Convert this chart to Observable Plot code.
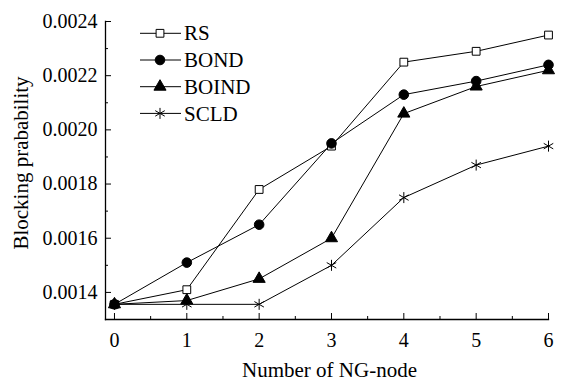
<!DOCTYPE html>
<html><head><meta charset="utf-8">
<script src="https://cdn.jsdelivr.net/npm/d3@7"></script>
<script src="https://cdn.jsdelivr.net/npm/@observablehq/plot@0.6"></script>
<style>
body{margin:0;background:#fff;}
#wrap{position:relative;width:579px;height:380px;}
#legend{position:absolute;left:0;top:0;pointer-events:none;}
</style></head><body><div id="wrap"></div>
<script>
const nodes = [0, 1, 2, 3, 4, 5, 6];
const seriesNames = ["RS", "BOND", "BOIND", "SCLD"];
const RS    = [0.001356, 0.00141, 0.00178, 0.00194, 0.00225, 0.00229, 0.00235];
const BOND  = [0.001356, 0.00151, 0.00165, 0.00195, 0.00213, 0.00218, 0.00224];
const BOIND = [0.001356, 0.00137, 0.00145, 0.00160, 0.00206, 0.00216, 0.00222];
const SCLD  = [0.001356, 0.001356, 0.001356, 0.00150, 0.00175, 0.00187, 0.00194];
const xTicks = [0, 1, 2, 3, 4, 5, 6];
const xMinorTicks = [0.5, 1.5, 2.5, 3.5, 4.5, 5.5];
const yTicks = [0.0014, 0.0016, 0.0018, 0.0020, 0.0022, 0.0024];
const yTickLabels = ["0.0014", "0.0016", "0.0018", "0.0020", "0.0022", "0.0024"];
const yMinorTicks = [0.0015, 0.0017, 0.0019, 0.0021, 0.0023];
const xTitle = "Number of NG-node";
const yTitle = "Blocking prabability";

const seriesValues = [RS, BOND, BOIND, SCLD];
const rows = [];
seriesNames.forEach((s, k) => seriesValues[k].forEach((v, i) => rows.push({series: s, x: nodes[i], y: v})));

const markStyle = {
  RS:    {symbol: "square",   r: 4.4, fill: "white", stroke: "black"},
  BOND:  {symbol: "circle",   r: 4.8, fill: "black", stroke: "black"},
  BOIND: {symbol: "triangle", r: 4.5, fill: "black", stroke: "black"},
  SCLD:  {symbol: "asterisk", r: 5.2, fill: "none",  stroke: "black"}
};

const W = 579, H = 380, ML = 105, MR = 31, MT = 21, MB = 61;
const FONT = "'Liberation Serif','Times New Roman',serif";

const chart = Plot.plot({
  width: W, height: H,
  marginLeft: ML, marginRight: MR, marginTop: MT, marginBottom: MB,
  style: {fontFamily: FONT, fontSize: "20px", background: "white", color: "black"},
  x: {domain: [-0.124, 6]},
  y: {domain: [0.0013, 0.0024]},
  marks: [
    Plot.axisX(xTicks, {anchor: "bottom", tickSize: -6, tickPadding: 19, tickFormat: d => String(d), label: null}),
    Plot.axisX(xMinorTicks, {anchor: "bottom", tickSize: -3, tickFormat: () => "", label: null}),
    Plot.axisY(yTicks, {anchor: "left", tickSize: -6, tickPadding: 14, tickFormat: (d, i) => yTickLabels[i], label: null}),
    Plot.axisY(yMinorTicks, {anchor: "left", tickSize: -3, tickFormat: () => "", label: null}),
    Plot.text([xTitle], {text: d => d, frameAnchor: "bottom", lineAnchor: "bottom", textAnchor: "middle", dx: 2.5, dy: 57, fontSize: 21}),
    Plot.text([yTitle], {text: d => d, frameAnchor: "left", lineAnchor: "top", textAnchor: "middle", rotate: -90, dx: -92, dy: -7.5, fontSize: 21}),
    Plot.frame({anchor: "left", strokeWidth: 1.3}),
    Plot.frame({anchor: "bottom", strokeWidth: 1.3}),
    Plot.line(rows, {x: "x", y: "y", z: "series", stroke: "black", strokeWidth: 1}),
    ...seriesNames.map(s => Plot.dot(rows.filter(d => d.series === s), {
      x: "x", y: "y", strokeWidth: 1, ...markStyle[s]
    }))
  ]
});
const wrap = document.getElementById("wrap");
wrap.appendChild(chart);

// legend overlay
const lg = d3.select(wrap).append("svg").attr("id", "legend").attr("width", W).attr("height", H)
  .style("font-family", FONT).style("font-size", "21px");
const symMap = {square: d3.symbolSquare, circle: d3.symbolCircle, triangle: d3.symbolTriangle,
  asterisk: d3.symbolAsterisk};
seriesNames.forEach((s, i) => {
  const cy = 33.3 + i * 26.7;
  const g = lg.append("g").attr("transform", `translate(0,${cy})`);
  g.append("line").attr("x1", 140).attr("x2", 181).attr("stroke", "black").attr("stroke-width", 1);
  const st = markStyle[s];
  g.append("path").attr("transform", "translate(160,0)")
    .attr("d", d3.symbol(symMap[st.symbol], Math.PI * st.r * st.r)())
    .attr("fill", st.fill).attr("stroke", st.stroke).attr("stroke-width", 1);
  g.append("text").attr("x", 184).attr("dy", "0.34em").attr("fill", "black").text(s);
});
</script></body></html>
